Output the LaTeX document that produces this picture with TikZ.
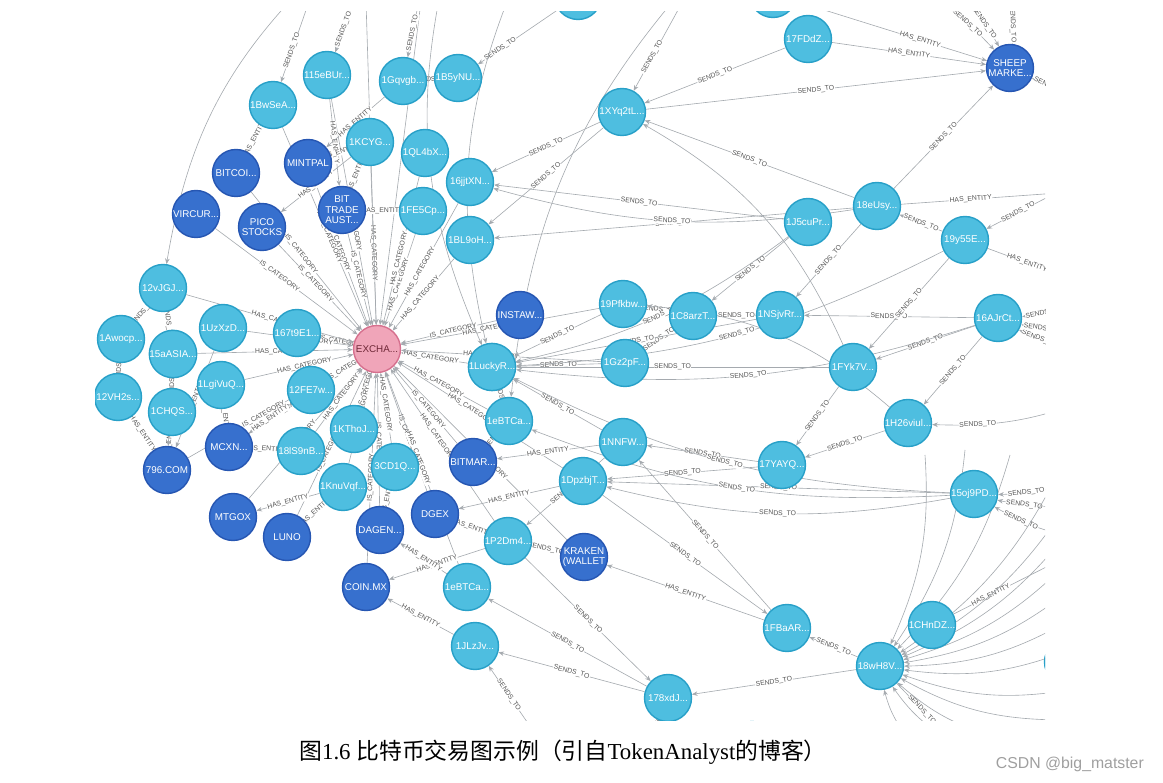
\documentclass[tikz,border=0pt]{standalone}
\usepackage{fontspec}
\setmainfont{Liberation Serif}
\setsansfont{Liberation Sans}
\newfontfamily\cjk{Noto Sans CJK SC}
\usetikzlibrary{arrows.meta,backgrounds}
\definecolor{addrfill}{RGB}{78,190,224}
\definecolor{addrline}{RGB}{40,160,200}
\definecolor{entfill}{RGB}{55,112,206}
\definecolor{entline}{RGB}{38,86,178}
\definecolor{catfill}{RGB}{240,165,185}
\definecolor{catline}{RGB}{214,112,142}
\definecolor{cattext}{RGB}{110,40,55}
\definecolor{edgegray}{RGB}{165,170,175}
\definecolor{labgray}{RGB}{85,85,85}
\tikzset{
  gnode/.style={circle,minimum size=0.94cm,inner sep=0pt,line width=0.8pt,align=center,font=\sffamily\fontsize{5.6}{5.9}\selectfont},
  addr/.style={gnode,fill=addrfill,draw=addrline,text=white},
  ent/.style={gnode,fill=entfill,draw=entline,text=white},
  cat/.style={gnode,fill=catfill,draw=catline,text=cattext},
  rel/.style={draw=edgegray,line width=0.35pt,-{Stealth[length=3.2pt,width=2.6pt]}},
  lbl/.style={font=\sffamily\fontsize{3.9}{4}\selectfont,text=labgray,fill=white,inner sep=0.3pt,sloped}
}

\begin{document}
\begin{tikzpicture}[x=0.02cm,y=-0.02cm]
  \useasboundingbox (0,0) rectangle (1163,783);

  % graph nodes
  \begin{scope}
  \clip (95,12) rectangle (1045,720);
  \node[addr] (t1) at (578,-4) {};
  \node[addr] (t2) at (773,-6) {};
  \node[addr] (fddz) at (808,39) {17FDdZ...};
  \node[ent] (sheep) at (1010,68) {SHEEP\\MARKE...};
  \node[addr] (t115) at (327,75) {115eBUr...};
  \node[addr] (bwsea) at (273,105) {1BwSeA...};
  \node[addr] (gqvgb) at (403,81) {1Gqvgb...};
  \node[addr] (b5ynu) at (458,78) {1B5yNU...};
  \node[addr] (xyq) at (622,112) {1XYq2tL...};
  \node[addr] (kcyg) at (370,142) {1KCYG...};
  \node[addr] (ql4bx) at (425,153) {1QL4bX...};
  \node[ent] (mintpal) at (308,163) {MINTPAL};
  \node[ent] (bitcoi) at (236,173) {BITCOI...};
  \node[addr] (jjtxn) at (470,182) {16jjtXN...};
  \node[addr] (eusy) at (877,206) {18eUsy...};
  \node[addr] (j5cu) at (808,222) {1J5cuPr...};
  \node[addr] (y55e) at (965,240) {19y55E...};
  \node[addr] (fe5cp) at (423,211) {1FE5Cp...};
  \node[ent] (bittrade) at (342,210) {BIT\\TRADE\\AUST...};
  \node[ent] (vircur) at (196,214) {VIRCUR...};
  \node[ent] (pico) at (262,227) {PICO\\STOCKS};
  \node[addr] (bl9oh) at (470,240) {1BL9oH...};
  \node[addr] (vjgj) at (163,288) {12vJGJ...};
  \node[addr] (pfkbw) at (623,304) {19Pfkbw...};
  \node[ent] (instaw) at (520,315) {INSTAW...};
  \node[addr] (c8arz) at (693,316) {1C8arzT...};
  \node[addr] (nsjv) at (780,315) {1NSjvRr...};
  \node[addr] (ajrc) at (998,318) {16AJrCt...};
  \node[addr] (awocp) at (121,339) {1Awocp...};
  \node[addr] (uzxz) at (223,328) {1UzXzD...};
  \node[addr] (t167) at (297,333) {167t9E1...};
  \node[cat] (exch) at (377,349) {EXCHA...};
  \node[addr] (saasia) at (173,354) {15aASIA...};
  \node[addr] (luckyr) at (492,367) {1LuckyR...};
  \node[addr] (gz2pf) at (625,363) {1Gz2pF...};
  \node[addr] (fyk) at (853,367) {1FYk7V...};
  \node[addr] (lgiv) at (221,385) {1LgiVuQ...};
  \node[addr] (fe7w) at (311,390) {12FE7w...};
  \node[addr] (vh2s) at (118,397) {12VH2s...};
  \node[addr] (chqs) at (172,412) {1CHQS...};
  \node[addr] (ebtca) at (509,421) {1eBTCa...};
  \node[addr] (kthoj) at (354,429) {1KThoJ...};
  \node[addr] (h26) at (908,423) {1H26viul...};
  \node[addr] (nnfw) at (623,442) {1NNFW...};
  \node[addr] (s9nb) at (301,451) {18lS9nB...};
  \node[ent] (mcxn) at (229,447) {MCXN...};
  \node[addr] (yayq) at (782,465) {17YAYQ...};
  \node[addr] (cd1q) at (395,467) {3CD1Q...};
  \node[ent] (bitmar) at (473,462) {BITMAR...};
  \node[ent] (c796) at (167,470) {796.COM};
  \node[addr] (oj9) at (974,494) {15oj9PD...};
  \node[addr] (dpzb) at (583,481) {1DpzbjT...};
  \node[addr] (knuv) at (343,487) {1KnuVqf...};
  \node[ent] (mtgox) at (233,517) {MTGOX};
  \node[ent] (dgex) at (435,514) {DGEX};
  \node[ent] (luno) at (287,537) {LUNO};
  \node[ent] (dagen) at (380,530) {DAGEN...};
  \node[addr] (p2dm) at (508,541) {1P2Dm4...};
  \node[ent] (kraken) at (584,557) {KRAKEN\\(WALLET};
  \node[ent] (coinmx) at (366,587) {COIN.MX};
  \node[addr] (ebtcb) at (467,587) {1eBTCa...};
  \node[addr] (fbaar) at (787,628) {1FBaAR...};
  \node[addr] (chnz) at (932,625) {1CHnDZ...};
  \node[addr] (jlzj) at (475,646) {1JLzJv...};
  \node[addr] (wh8v) at (880,666) {18wH8V...};
  \node[addr] (xdj) at (668,698) {178xdJ...};
  \node[addr] (b1) at (752,745) {};
  \node[addr] (r1) at (1068,662) {};
  \end{scope}

  % free ends off the cut
  \coordinate (u1) at (320,-30);
  \coordinate (u2) at (365,-30);
  \coordinate (u3) at (425,-30);
  \coordinate (u4) at (445,-30);
  \coordinate (u5) at (520,-30);
  \coordinate (u6) at (700,-30);
  \coordinate (u7) at (880,-30);
  \coordinate (u8) at (930,-30);
  \coordinate (u9) at (1000,-30);
  \coordinate (e1) at (1100,110);
  \coordinate (e2) at (1100,170);
  \coordinate (e3) at (1100,190);
  \coordinate (e4) at (1100,290);
  \coordinate (e5) at (1100,325);
  \coordinate (e6) at (1100,350);
  \coordinate (e7) at (1100,395);
  \coordinate (e8) at (1100,470);
  \coordinate (e9) at (1100,500);
  \coordinate (e10) at (1100,540);
  \coordinate (e11) at (1060,560);
  \coordinate (d1) at (560,770);
  \coordinate (d2) at (640,770);
  \coordinate (d3) at (980,770);

  % relationships
  \begin{pgfonlayer}{background}
  \begin{scope}
  \clip (95,12) rectangle (1045,720);
  \foreach \s in {bitcoi,vircur,pico,mintpal,bittrade,instaw,mcxn,bitmar,dgex,dagen,mtgox,luno,coinmx,kraken,c796}
    \draw[rel] (\s) -- node[lbl,pos=0.45]{IS\_CATEGORY} (exch);
  \foreach \s in {t167,fe7w,kthoj,cd1q,s9nb,knuv,luckyr,ebtca,fe5cp,bl9oh,kcyg,ql4bx,lgiv,saasia,vjgj,uzxz,dpzb,p2dm,jjtxn,t115,bwsea,gz2pf,pfkbw,ebtcb}
    \draw[rel] (\s) -- node[lbl,pos=0.55]{HAS\_CATEGORY} (exch);
  \foreach \s in {u2,u3}
    \draw[rel] (\s) -- (exch);

  \foreach \s/\t in {bwsea/bitcoi,t115/bittrade,kcyg/mintpal,kcyg/bittrade,fe5cp/bittrade,gqvgb/mintpal,kcyg/pico,
      chqs/c796,vh2s/c796,saasia/c796,uzxz/c796,lgiv/mcxn,s9nb/mcxn,fe7w/mcxn,knuv/mtgox,knuv/luno,
      ebtca/bitmar,nnfw/bitmar,dpzb/dgex,p2dm/dgex,p2dm/coinmx,ebtcb/dagen,jlzj/coinmx,fbaar/kraken,
      fddz/sheep,cd1q/dagen}
    \draw[rel] (\s) -- node[lbl]{HAS\_ENTITY} (\t);
  \foreach \s/\t in {eusy/e3,y55e/e4,chnz/e11}
    \draw[rel] (\s) -- node[lbl,pos=0.35]{HAS\_ENTITY} (\t);
  \draw[rel] (t2) -- node[lbl,pos=0.65]{HAS\_ENTITY} (sheep);

  \foreach \s/\t in {b5ynu/gqvgb,xyq/jjtxn,xyq/bl9oh,fddz/xyq,eusy/xyq,j5cu/jjtxn,eusy/bl9oh,c8arz/pfkbw,
      nsjv/c8arz,ajrc/nsjv,ajrc/fyk,fyk/yayq,ajrc/h26,y55e/fyk,eusy/nsjv,j5cu/c8arz,gz2pf/luckyr,
      pfkbw/luckyr,c8arz/gz2pf,nnfw/luckyr,yayq/nnfw,fbaar/nnfw,oj9/dpzb,yayq/dpzb,wh8v/fbaar,
      wh8v/xdj,xdj/jlzj,xdj/ebtcb,nnfw/p2dm,p2dm/xdj,dpzb/fbaar,fyk/luckyr,nsjv/luckyr,y55e/eusy,
      eusy/sheep,xyq/sheep,h26/yayq,vjgj/awocp,vjgj/saasia,awocp/vh2s,saasia/chqs,ebtca/luckyr,
      p2dm/kraken}
    \draw[rel] (\s) -- node[lbl]{SENDS\_TO} (\t);
  \foreach \s/\t in {u6/xyq,u3/gqvgb,u1/bwsea,u2/t115,t1/b5ynu,d1/jlzj,d2/xdj,e1/sheep,e2/y55e}
    \draw[rel] (\s) -- node[lbl,pos=0.72]{SENDS\_TO} (\t);
  \draw[rel] (wh8v) -- node[lbl,pos=0.3]{SENDS\_TO} (d3);

  \foreach \s/\t in {ajrc/luckyr,oj9/luckyr,y55e/luckyr,eusy/jjtxn,oj9/ebtca,j5cu/luckyr,oj9/dpzb}
    \draw[rel] (\s) to[bend left=12] node[lbl]{SENDS\_TO} (\t);
  \foreach \s/\t in {e4/ajrc,e6/ajrc,e7/h26,e8/oj9,e9/oj9,e10/oj9,u7/sheep,u8/sheep,u9/sheep,e5/ajrc}
    \draw[rel] (\s) to[bend left=12] node[lbl,pos=0.75]{SENDS\_TO} (\t);
  \foreach \s/\t in {u1/vjgj,u4/luckyr,u5/luckyr,u6/ebtca,fyk/xyq,h26/pfkbw}
    \draw[rel] (\s) to[bend right=18] (\t);

  % fan round 18wH8V
  \foreach \i/\x/\y in {1/925/455,2/965/450,3/1010/455,4/1060/470,5/1070/500,6/1070/530,
      7/1070/560,8/1070/590,9/1070/620,10/1070/650,11/1070/690,12/1060/720,
      13/1010/740,14/960/745,15/915/745} {
    \coordinate (f\i) at (\x,\y);
    \draw[rel] (f\i) to[bend left=14] (wh8v);
  }
  \end{scope}
  \end{pgfonlayer}

  % caption and mark
  \node[font=\fontsize{13}{15}\selectfont] (cap) at (563,752)
    {{\cjk 图}1.6 {\cjk 比特币交易图示例（引自}TokenAnalyst{\cjk 的博客）}};
  \node[font=\sffamily\fontsize{9}{10}\selectfont,text=gray!75,anchor=east] (mark) at (1150,764) {CSDN @big\_matster};
\end{tikzpicture}
\end{document}
